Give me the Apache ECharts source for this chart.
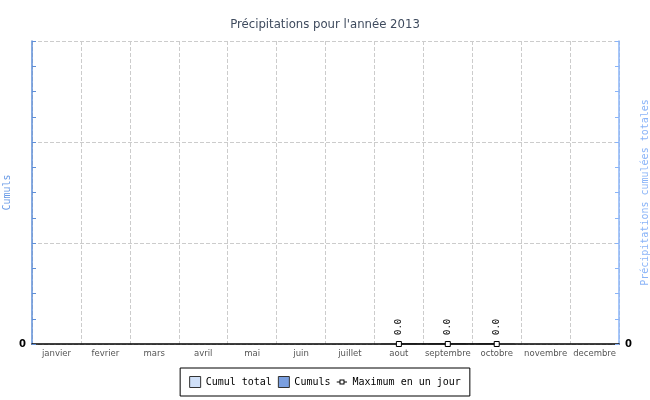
<!DOCTYPE html>
<html><head><meta charset="utf-8">
<script src="https://cdn.jsdelivr.net/npm/echarts@6/dist/echarts.min.js"></script>
<style>html,body{margin:0;padding:0;background:#fff}#c{width:650px;height:400px}</style>
</head><body><div id="c"></div>
<script>
const months = ['janvier','fevrier','mars','avril','mai','juin','juillet','aout','septembre','octobre','novembre','decembre'];
const cumulTotal = [null,null,null,null,null,null,null,0,0,0,null,null];
const cumuls = [null,null,null,null,null,null,null,0,0,0,null,null];
const maxJour = [null,null,null,null,null,null,null,0,0,0,null,null];
const yTicks = [0];

const lineIcon = 'image://data:image/svg+xml;utf8,' + encodeURIComponent(
  '<svg xmlns="http://www.w3.org/2000/svg" width="11" height="11"><line x1="0" y1="5.5" x2="11" y2="5.5" stroke="#000" stroke-width="1"/><rect x="3.5" y="3.5" width="4" height="4" fill="#fff" stroke="#000" stroke-width="1"/></svg>');

const chart = echarts.init(document.getElementById('c'), null, {renderer:'canvas'});
const mono = 'DejaVu Sans Mono';
chart.setOption({
  animation:false,
  title:{text:"Précipitations pour l'année 2013", left:'center', top:13,
    textStyle:{fontFamily:'DejaVu Sans Condensed', fontSize:13, fontWeight:'normal', color:'#3f4b5e'}},
  grid:{left:32, right:31, top:41, bottom:56, outerBoundsMode:'none', containLabel:false},
  legend:{bottom:4, left:'center', borderColor:'#000', borderWidth:1, padding:[8,9],
    itemWidth:11, itemHeight:11, itemGap:6,
    textStyle:{fontFamily:mono, fontSize:10, color:'#000'},
    data:[
      {name:'Cumul total', icon:'rect', itemStyle:{color:'#d0e0f8', borderColor:'#333', borderWidth:1}},
      {name:'Cumuls', icon:'rect', itemStyle:{color:'#7a9fe0', borderColor:'#333', borderWidth:1}},
      {name:'Maximum en un jour', icon:lineIcon}
    ]},
  xAxis:{type:'category', data:months, boundaryGap:true,
    axisLine:{lineStyle:{color:'#000', width:1.5}},
    axisTick:{inside:true, length:5, interval:0, lineStyle:{color:'#000'}},
    axisLabel:{interval:0, fontFamily:'DejaVu Sans', fontSize:8.5, color:'#555', margin:5},
    splitLine:{show:true, interval:0, lineStyle:{type:'dashed', color:'#ccc'}}},
  yAxis:[
    {type:'value', min:0, max:3, interval:1, position:'left',
      name:'Cumuls', nameLocation:'middle', nameRotate:90, nameGap:20, nameMoveOverlap:false,
      nameTextStyle:{fontFamily:mono, fontSize:10, color:'#6a9be6'},
      axisLine:{show:true, lineStyle:{color:'#5f8fd8', width:1.5}},
      axisTick:{show:true, inside:true, length:4, lineStyle:{color:'#5f8fd8'}},
      minorTick:{show:true, splitNumber:4, length:4, lineStyle:{color:'#5f8fd8'}},
      axisLabel:{formatter:v=>yTicks.includes(v)?String(v):'', fontFamily:'DejaVu Sans', fontWeight:'bold', fontSize:10, color:'#000', margin:6},
      splitLine:{show:true, lineStyle:{type:'dashed', color:'#ccc'}}},
    {type:'value', min:0, max:3, interval:1, position:'right',
      name:'Précipitations cumulées totales', nameLocation:'middle', nameRotate:90, nameGap:21, nameMoveOverlap:false,
      nameTextStyle:{fontFamily:mono, fontSize:10, color:'#8ab4f8'},
      axisLine:{show:true, lineStyle:{color:'#8ab4f8', width:1.5}},
      axisTick:{show:true, inside:true, length:4, lineStyle:{color:'#8ab4f8'}},
      minorTick:{show:true, splitNumber:4, length:4, lineStyle:{color:'#8ab4f8'}},
      axisLabel:{formatter:v=>yTicks.includes(v)?String(v):'', fontFamily:'DejaVu Sans', fontWeight:'bold', fontSize:10, color:'#000', margin:6},
      splitLine:{show:false}}
  ],
  series:[
    {name:'Cumul total', type:'bar', yAxisIndex:1, data:cumulTotal, barGap:'-100%',
      itemStyle:{color:'#d0e0f8', borderColor:'#333', borderWidth:1}},
    {name:'Cumuls', type:'bar', yAxisIndex:0, data:cumuls,
      itemStyle:{color:'#7a9fe0', borderColor:'#333', borderWidth:1}},
    {name:'Maximum en un jour', type:'line', yAxisIndex:0, data:maxJour,
      symbol:'rect', symbolSize:5, showSymbol:true,
      lineStyle:{color:'#000', width:1}, itemStyle:{color:'#fff', borderColor:'#000', borderWidth:1},
      label:{show:true, position:'top', distance:6, rotate:90, align:'left', verticalAlign:'middle',
        formatter:p=>Number(p.value).toFixed(1), fontFamily:mono, fontSize:9, color:'#000'}}
  ]
});
</script></body></html>
